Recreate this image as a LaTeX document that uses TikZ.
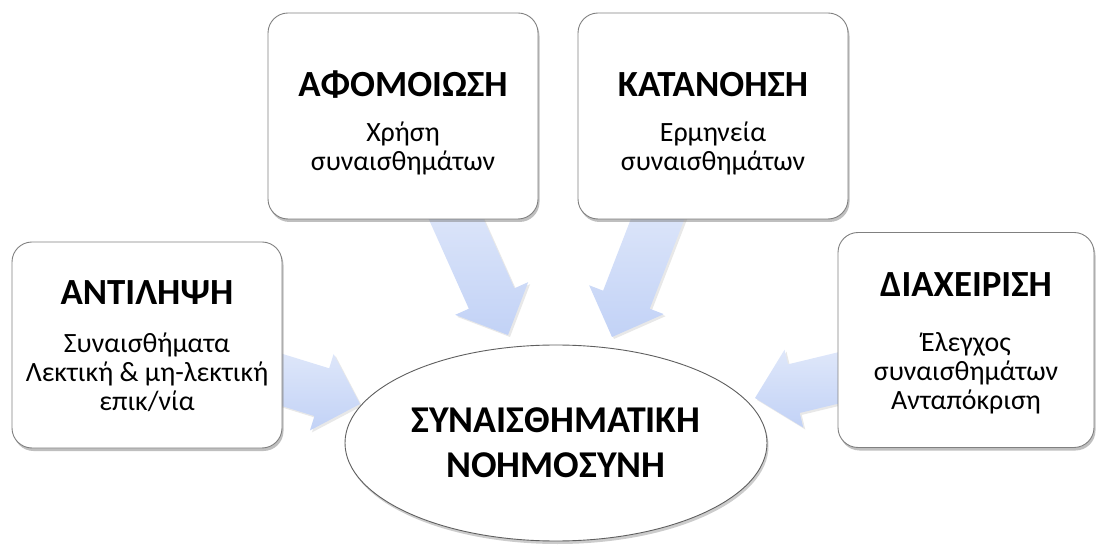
\documentclass[tikz,border=0pt]{standalone}
\usepackage{fontspec}
\setmainfont{Carlito}
\usetikzlibrary{shapes.geometric,shadows,calc}

\definecolor{arrowtop}{RGB}{224,232,250}
\definecolor{arrowbot}{RGB}{194,210,246}
\definecolor{cardline}{RGB}{128,128,128}
\definecolor{blobline}{RGB}{95,95,95}

\tikzset{
  card/.style={draw=cardline, line width=0.9bp, fill=white, rounded corners=20bp,
    minimum width=270bp, minimum height=206bp,
    drop shadow={shadow xshift=1.5bp, shadow yshift=-3bp, opacity=0.5}},
  head/.style={font=\fontsize{37}{44}\selectfont\bfseries},
  body/.style={font=\fontsize{28}{29}\selectfont, align=center},
  blob/.style={ellipse, draw=blobline, line width=0.9bp, fill=white,
    minimum width=422bp, minimum height=196bp,
    drop shadow={shadow xshift=1.5bp, shadow yshift=-3bp, opacity=0.4}},
  bigarrow/.style={top color=arrowtop, bottom color=arrowbot, draw=none,
    drop shadow={shadow xshift=2bp, shadow yshift=-2bp, opacity=0.18}}
}

% block arrow from #1 to #2
\newcommand{\convarrow}[2]{%
  \coordinate (#2b) at ($(#2)!40bp!(#1)$);
  \path[bigarrow] ($(#1)!25bp!90:(#2)$) -- ($(#2b)!25bp!90:(#2)$)
    -- ($(#2b)!40bp!90:(#2)$) -- (#2) -- ($(#2b)!40bp!-90:(#2)$)
    -- ($(#2b)!25bp!-90:(#2)$) -- ($(#1)!25bp!-90:(#2)$) -- cycle;
}

\begin{document}
\begin{tikzpicture}[x=1bp, y=-1bp]
  \useasboundingbox (0,0) rectangle (1096,556);
  % arrow ends
  \coordinate (s1) at (250,370);  \coordinate (t1) at (360,404);
  \coordinate (s2) at (448,201);  \coordinate (t2) at (508,335);
  \coordinate (s3) at (665,200);  \coordinate (t3) at (612,337);
  \coordinate (s4) at (867,371);  \coordinate (t4) at (755,398);
  % arrows
  \convarrow{s1}{t1}
  \convarrow{s2}{t2}
  \convarrow{s3}{t3}
  \convarrow{s4}{t4}
  % boxes
  \node[card] (antil) at (147,345) {};
  \node[card] (afom)  at (403,116) {};
  \node[card] (katan) at (713,116) {};
  \node[card, minimum width=256bp, minimum height=215bp] (diax) at (966,340) {};
  % texts
  \node[head] (antilh) at (147,293) {ΑΝΤΙΛΗΨΗ};
  \node[body] (antilt) at (147,372) {Συναισθήματα\\Λεκτική \& μη-λεκτική\\επικ/νία};
  \node[head] (afomh) at (403,85) {ΑΦΟΜΟΙΩΣΗ};
  \node[body] (afomt) at (403,148) {Χρήση\\συναισθημάτων};
  \node[head] (katanh) at (713,85) {ΚΑΤΑΝΟΗΣΗ};
  \node[body] (katant) at (713,148) {Ερμηνεία\\συναισθημάτων};
  \node[head] (diaxh) at (966,285) {ΔΙΑΧΕΙΡΙΣΗ};
  \node[body] (diaxt) at (966,373) {Έλεγχος\\συναισθημάτων\\Ανταπόκριση};
  % centre
  \node[blob, font=\fontsize{38}{45}\selectfont\bfseries, align=center] (ei)
    at (556,443) {ΣΥΝΑΙΣΘΗΜΑΤΙΚΗ\\ΝΟΗΜΟΣΥΝΗ};
\end{tikzpicture}
\end{document}
